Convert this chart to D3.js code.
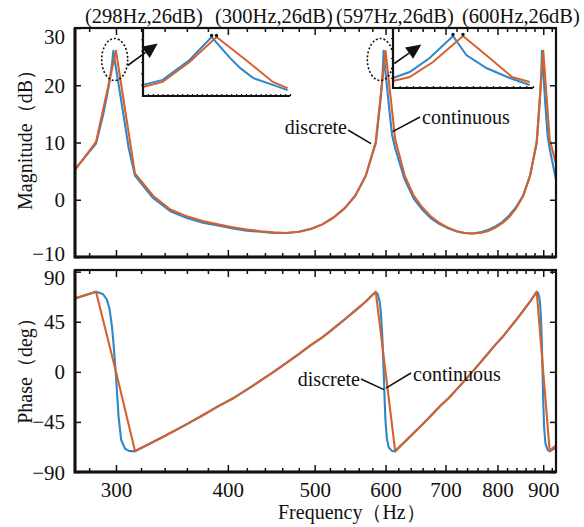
<!DOCTYPE html>
<html><head><meta charset="utf-8">
<script src="https://cdn.jsdelivr.net/npm/d3@7"></script>
<style>
html,body{margin:0;padding:0;background:#fff;}
svg{display:block;}
text{font-family:"Liberation Serif",Tinos,"Times New Roman",Times,"DejaVu Serif",serif;fill:#111;}
</style></head><body>
<svg id="chart" width="584" height="527"></svg>
<script>
// Continuous-time model, sampled every 15 Hz
const freqCont = [270,285,300,315,330,345,360,375,390,405,420,435,450,465,480,495,510,525,540,555,570,
  585,600,615,630,645,660,675,690,705,720,735,750,765,780,795,810,825,840,855,870,885,900,915,930];
const magCont = [5.2,10.1,26.0,4.6,0.7,-1.7,-2.9,-3.7,-4.3,-4.8,-5.2,-5.5,-5.7,-5.8,-5.6,-5.1,-4.3,-3.1,-1.5,0.7,4.1,
  10.1,26.0,10.6,4.3,0.7,-1.4,-3.0,-4.1,-4.9,-5.5,-5.8,-5.9,-5.8,-5.5,-4.9,-4.1,-3.0,-1.4,0.7,4.2,10.2,26.0,10.5,6.3];
const phaseCont = [66,72,0,-71,-63,-55,-47,-39,-31,-24,-16,-8,0,8,16,24,31,39,47,55,63,
  72,0,-71,-63,-55,-47,-39,-31,-24,-16,-8,0,8,16,24,31,39,47,55,63,72,0,-71,-66];

// Discrete-time model, refined around each resonance
const freqDisc = [270,285,290,293,295,297,298,299,300,301,302,304,307,310,315,
  330,345,360,375,390,405,420,435,450,465,480,495,510,525,540,555,570,
  580,585,588,591,593,595,596,597,598,599,600,602,605,610,615,
  630,645,660,675,690,705,720,735,750,765,780,795,810,825,840,855,870,
  880,885,888,891,893,895,896,897,898,899,900,902,905,910,915,930];
const magDisc = [5.3,9.8,14.6,18.0,20.6,23.8,26.0,24.4,23.0,21.6,20.2,17.4,13.2,9.0,4.2,
  0.3,-2.0,-3.2,-4.0,-4.5,-5.0,-5.4,-5.6,-5.8,-5.8,-5.6,-5.1,-4.3,-3.1,-1.5,0.7,4.1,
  8.0,9.8,12.8,16.0,18.4,21.2,23.2,26.0,24.6,23.4,22.2,20.0,16.6,11.4,9.0,
  3.6,0.2,-1.8,-3.3,-4.3,-5.0,-5.5,-5.8,-5.9,-5.7,-5.3,-4.7,-3.9,-2.7,-1.2,0.8,4.2,
  8.0,9.9,12.9,16.1,18.5,21.3,23.3,26.0,24.6,23.4,22.2,20.0,16.5,11.3,8.9,3.5];
const phaseDisc = [66,72,70,65,57,40,27,12,-4,-22,-40,-61,-69,-71,-71.5,
  -63,-55,-47,-39,-31,-24,-16,-8,0,8,16,24,31,39,47,55,63,
  69,71.5,70,63,52,32,18,2,-15,-32,-45,-60,-68,-71,-71.5,
  -63,-55,-47,-39,-31,-24,-16,-8,0,8,16,24,31,39,47,55,63,
  69,71.5,71,67,60,46,35,22,6,-10,-26,-50,-64,-70,-71.5,-68];

// Magnified views of the first two resonance peaks
const zoom1FreqCont = [270,278,289,300,312,323,329];
const zoom1MagCont  = [4.0,6.2,15.0,26,15.9,6.2,3.5];
const zoom1FreqDisc = [270,278,289,298,305.5,309.6,315,323,329];
const zoom1MagDisc  = [4.9,7.1,15.9,26,16.8,12.4,7.9,4.9,2.6];
const zoom2FreqCont = [579,584,591,600,608,614.7,620];
const zoom2MagCont  = [3.5,5.5,13,26,15,5.5,3];
const zoom2FreqDisc = [579,584,590,597,601,607,614,620];
const zoom2MagDisc  = [5.0,8.0,15,26,16.5,10,5,1.5];

const peakLabels = ["(298Hz,26dB)","(300Hz,26dB)","(597Hz,26dB)","(600Hz,26dB)"];
const xTicks = [300,400,500,600,700,800,900];
const magTicks = [-10,0,10,20,30];
const phaseTicks = [-90,-45,0,45,90];

const blue = "#2f86c9", orange = "#d6612c", ink = "#111";
const serif = '"Liberation Serif",Tinos,"Times New Roman",Times,"DejaVu Serif",serif';
const svg = d3.select("#chart");
const L = 75, R = 556, magT = 28, magB = 257, phT = 270, phB = 472;

const x = d3.scaleLog().domain([270, 930]).range([L, R]);
const yMag = d3.scaleLinear().domain([-10, 30]).range([magB, magT]);
const yPh = d3.scaleLinear().domain([-90, 91.5]).range([phB, phT]);

const defs = svg.append("defs");
defs.append("clipPath").attr("id","clipMag").append("rect").attr("x",L).attr("y",magT).attr("width",R-L).attr("height",magB-magT);
defs.append("clipPath").attr("id","clipPh").append("rect").attr("x",L).attr("y",phT).attr("width",R-L).attr("height",phB-phT);

function drawSeries(clip, fr, vals, yScale, color) {
  const line = d3.line().x(d => x(d[0])).y(d => yScale(d[1]));
  svg.append("path").attr("clip-path", `url(#${clip})`)
    .attr("d", line(d3.zip(fr, vals)))
    .attr("fill","none").attr("stroke",color).attr("stroke-width",2.1).attr("stroke-linejoin","round");
}
drawSeries("clipMag", freqDisc, magDisc, yMag, blue);
drawSeries("clipMag", freqCont, magCont, yMag, orange);
drawSeries("clipPh", freqDisc, phaseDisc, yPh, blue);
drawSeries("clipPh", freqCont, phaseCont, yPh, orange);

const minorTicks = d3.range(280, 921, 20).filter(v => !xTicks.includes(v));

function styleAxis(g) {
  g.select(".domain").remove();
  g.selectAll(".tick line").attr("stroke", ink).attr("stroke-width", 1.5);
  g.selectAll(".tick text").attr("fill", ink).style("font-size","21px").style("font-family", serif);
  g.attr("font-family", null).attr("font-size", null);
}

function panel(yScale, top, bottom, yTicks, showX, labelShift) {
  // x ticks on bottom and top edges
  svg.append("g").attr("transform",`translate(0,${bottom})`)
    .call(d3.axisBottom(x).tickValues(xTicks).tickSize(-7).tickPadding(10)
      .tickFormat(showX ? d3.format("d") : () => "")).call(styleAxis);
  svg.append("g").attr("transform",`translate(0,${bottom})`)
    .call(d3.axisBottom(x).tickValues(minorTicks).tickSize(-4).tickFormat(() => "")).call(styleAxis);
  svg.append("g").attr("transform",`translate(0,${top})`)
    .call(d3.axisTop(x).tickValues(xTicks).tickSize(-7).tickFormat(() => "")).call(styleAxis);
  svg.append("g").attr("transform",`translate(0,${top})`)
    .call(d3.axisTop(x).tickValues(minorTicks).tickSize(-4).tickFormat(() => "")).call(styleAxis);
  // y ticks on left and right edges
  const gl = svg.append("g").attr("transform",`translate(${L},0)`)
    .call(d3.axisLeft(yScale).tickValues(yTicks).tickSize(-6).tickPadding(10)).call(styleAxis);
  gl.selectAll(".tick text").attr("dy", d => (labelShift[d] || 0) + "px").attr("dominant-baseline","central");
  svg.append("g").attr("transform",`translate(${R},0)`)
    .call(d3.axisRight(yScale).tickValues(yTicks).tickSize(-6).tickFormat(() => "")).call(styleAxis);
  // box
  svg.append("rect").attr("x",L).attr("y",top).attr("width",R-L).attr("height",bottom-top)
    .attr("fill","none").attr("stroke",ink).attr("stroke-width",2.2);
  svg.append("path").attr("d",`M${L},${top}V${bottom}H${R}`).attr("fill","none").attr("stroke",ink).attr("stroke-width",3);
}
panel(yMag, magT, magB, magTicks, false, {30: 8, "-10": -4});
panel(yPh, phT, phB, phaseTicks, true, {90: 6});

// axis titles
svg.append("text").attr("transform",`translate(32,135) rotate(-90)`).attr("text-anchor","middle")
  .style("font-size","20px").text("Magnitude（dB）");
svg.append("text").attr("transform",`translate(32,366) rotate(-90)`).attr("text-anchor","middle")
  .style("font-size","20px").text("Phase（deg）");
svg.append("text").attr("x",278).attr("y",519).style("font-size","20px").text("Frequency（Hz）");

// peak coordinate labels
const labelX = [85, 215, 336, 462];
svg.selectAll("text.peak").data(peakLabels).join("text").attr("class","peak")
  .attr("x",(d,i) => labelX[i]).attr("y",23).style("font-size","20.5px").text(d => d);

// magnified insets
function inset(fx, fy, frC, vC, frD, vD, peakF) {
  const [x0, x1] = fx.range(), [yb, yt] = fy.range();
  const line = (fr, v) => d3.line().x(d => fx(d[0])).y(d => fy(d[1]))(d3.zip(fr, v));
  svg.append("path").attr("d", line(frD, vD)).attr("fill","none").attr("stroke",blue).attr("stroke-width",2);
  svg.append("path").attr("d", line(frC, vC)).attr("fill","none").attr("stroke",orange).attr("stroke-width",2);
  const gb = svg.append("g").attr("transform",`translate(0,${yb})`)
    .call(d3.axisBottom(fx).tickValues(d3.range(fx.domain()[0], fx.domain()[1] + 0.01, 2)).tickSize(-2).tickFormat(() => ""));
  gb.select(".domain").remove();
  gb.selectAll(".tick line").attr("stroke", ink).attr("stroke-width", 1.2);
  const gy = svg.append("g").attr("transform",`translate(${x0},0)`)
    .call(d3.axisLeft(fy).tickValues([5,10,15,20,25]).tickSize(2).tickFormat(() => ""));
  gy.select(".domain").remove();
  gy.selectAll(".tick line").attr("stroke", ink).attr("stroke-width", 1);
  svg.append("path").attr("d",`M${x0},${yt}V${yb}H${x1}`).attr("fill","none").attr("stroke",ink).attr("stroke-width",2.2);
  svg.selectAll(null).data(peakF).join("circle")
    .attr("cx", d => fx(d)).attr("cy", fy(26) - 1.5).attr("r", 1.7).attr("fill", ink);
}
const in1x = d3.scaleLinear().domain([270, 330]).range([143, 290]);
const in1y = d3.scaleLinear().domain([0, 30]).range([96, 28]);
const in2x = d3.scaleLinear().domain([579, 621]).range([393, 533]);
const in2y = d3.scaleLinear().domain([0, 30]).range([88, 28]);
inset(in1x, in1y, zoom1FreqCont, zoom1MagCont, zoom1FreqDisc, zoom1MagDisc, [298, 300]);
inset(in2x, in2y, zoom2FreqCont, zoom2MagCont, zoom2FreqDisc, zoom2MagDisc, [597, 600]);

// dotted ellipses around the peaks, with arrows to the insets
function arrow(x1, y1, x2, y2) {
  const a = Math.atan2(y2 - y1, x2 - x1), len = 15, w = 7;
  const bx = x2 - len * Math.cos(a), by = y2 - len * Math.sin(a);
  svg.append("line").attr("x1",x1).attr("y1",y1).attr("x2",bx).attr("y2",by)
    .attr("stroke",ink).attr("stroke-width",1.6);
  const px = -Math.sin(a) * w, py = Math.cos(a) * w;
  svg.append("path").attr("d",`M${x2},${y2}L${bx+px},${by+py}L${bx-px},${by-py}Z`).attr("fill",ink);
}
[[299, 24.5], [592, 24.5]].forEach(([f, v], i) => {
  const cx = x(f), cy = yMag(v);
  svg.append("ellipse").attr("cx",cx).attr("cy",cy).attr("rx",13).attr("ry",21)
    .attr("fill","none").attr("stroke",ink).attr("stroke-width",1.6).attr("stroke-dasharray","2,2");
  if (i === 0) arrow(cx + 13, cy + 6, cx + 43, cy - 16);
  else arrow(cx + 14, cy + 4, cx + 41, cy - 15);
});

// series labels with leader lines
function leader(x1, y1, x2, y2) {
  svg.append("line").attr("x1",x1).attr("y1",y1).attr("x2",x2).attr("y2",y2)
    .attr("stroke",ink).attr("stroke-width",1.5);
}
svg.append("text").attr("x",347).attr("y",134).attr("text-anchor","end").style("font-size","20px").text("discrete");
leader(348, 130, x(578), yMag(9.8));
svg.append("text").attr("x",422).attr("y",124).style("font-size","20px").text("continuous");
leader(420, 117, x(611), yMag(11.9));
svg.append("text").attr("x",360).attr("y",386).attr("text-anchor","end").style("font-size","20px").text("discrete");
leader(361, 379, x(597.5), yPh(-16));
svg.append("text").attr("x",413).attr("y",381).style("font-size","20px").text("continuous");
leader(411, 373, x(600.6), yPh(-14.6));
</script>
</body></html>
